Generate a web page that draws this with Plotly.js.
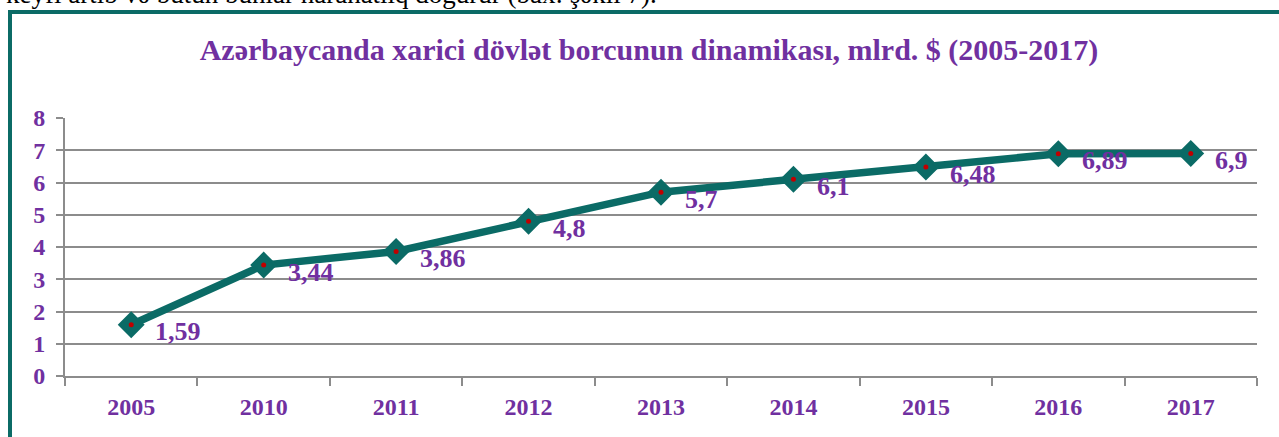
<!DOCTYPE html>
<html>
<head>
<meta charset="utf-8">
<script src="https://cdn.plot.ly/plotly-3.0.1.min.js"></script>
<style>
html,body{margin:0;padding:0;background:#fff;overflow:hidden;}
#chart{width:1279px;height:437px;}
</style>
</head>
<body>
<div id="chart"></div>
<script>
const years = ['2005','2010','2011','2012','2013','2014','2015','2016','2017'];
const debt = [1.59, 3.44, 3.86, 4.8, 5.7, 6.1, 6.48, 6.89, 6.9];
const debtLabels = ['1,59','3,44','3,86','4,8','5,7','6,1','6,48','6,89','6,9'];
const yTicks = [0,1,2,3,4,5,6,7,8];
const chartTitle = 'Azərbaycanda xarici dövlət borcunun dinamikası, mlrd. $ (2005-2017)';
const topText = 'keyfi artıb və bütün bunlar narahatlıq doğurur (bax: şəkil 7).';

const purple = '#7030A0';
const teal = '#0B6B66';
const grid = '#8C8C8C';
const serif = '"Liberation Serif", "Times New Roman", serif';

// plot area geometry in pixels (for paper-coordinate frame shapes)
const L = 65, R = 22, T = 118, B = 61, W = 1279, H = 437;
const pw = W - L - R, ph = H - T - B;
const px2x = p => (p - L) / pw;
const py2y = p => (H - B - p) / ph;

const traces = [
  {
    x: years, y: debt, type: 'scatter', mode: 'lines+markers',
    line: {color: teal, width: 7.5},
    marker: {symbol: 'diamond', size: 18, color: teal, line: {color: teal, width: 2.5}},
    hoverinfo: 'skip', cliponaxis: false
  },
  {
    x: years, y: debt, type: 'scatter', mode: 'markers',
    marker: {symbol: 'circle', size: 5, color: '#C00000'},
    hoverinfo: 'skip', cliponaxis: false
  }
];

// category axis: annotation x uses the category index
const annotations = years.map((yr, i) => ({
  x: i, y: debt[i], xref: 'x', yref: 'y',
  text: '<b>' + debtLabels[i] + '</b>', showarrow: false,
  xanchor: 'left', yanchor: 'middle', xshift: 22, yshift: -7,
  font: {family: serif, size: 26, color: purple}
}));

annotations.push({
  x: px2x(4), y: py2y(-6), xref: 'paper', yref: 'paper',
  text: topText, showarrow: false, xanchor: 'left', yanchor: 'middle',
  font: {family: serif, size: 27, color: '#000'}
});

const layout = {
  width: W, height: H,
  margin: {l: L, r: R, t: T, b: B, pad: 0},
  paper_bgcolor: '#fff', plot_bgcolor: '#fff',
  showlegend: false,
  title: {
    text: '<b>' + chartTitle + '</b>',
    x: 649 / W, xref: 'container', xanchor: 'center',
    y: 1 - 49 / H, yref: 'container', yanchor: 'middle',
    font: {family: serif, size: 30, color: purple}
  },
  xaxis: {
    type: 'category', range: [-0.5, 8.5],
    showgrid: false, zeroline: false,
    showline: true, linecolor: grid, linewidth: 2,
    ticks: 'outside', tickson: 'boundaries', ticklen: 8, tickwidth: 2, tickcolor: grid,
    tickfont: {family: serif, size: 24, color: purple, weight: 'bold'},
    ticklabelstandoff: 8,
    fixedrange: true
  },
  yaxis: {
    range: [0, 8], tickvals: yTicks, ticktext: yTicks.map(String),
    showgrid: true, gridcolor: grid, gridwidth: 2,
    zeroline: false,
    showline: true, linecolor: grid, linewidth: 2,
    ticks: 'outside', ticklen: 7, tickwidth: 2, tickcolor: grid,
    tickfont: {family: serif, size: 24, color: purple, weight: 'bold'},
    ticklabelstandoff: 6,
    fixedrange: true
  },
  annotations: annotations,
  shapes: [{
    type: 'rect', xref: 'paper', yref: 'paper', layer: 'above',
    x0: px2x(10), x1: px2x(1300), y0: py2y(470), y1: py2y(12),
    line: {color: teal, width: 4}, fillcolor: 'rgba(0,0,0,0)'
  }]
};

Plotly.newPlot('chart', traces, layout, {displayModeBar: false, staticPlot: true});
</script>
</body>
</html>
